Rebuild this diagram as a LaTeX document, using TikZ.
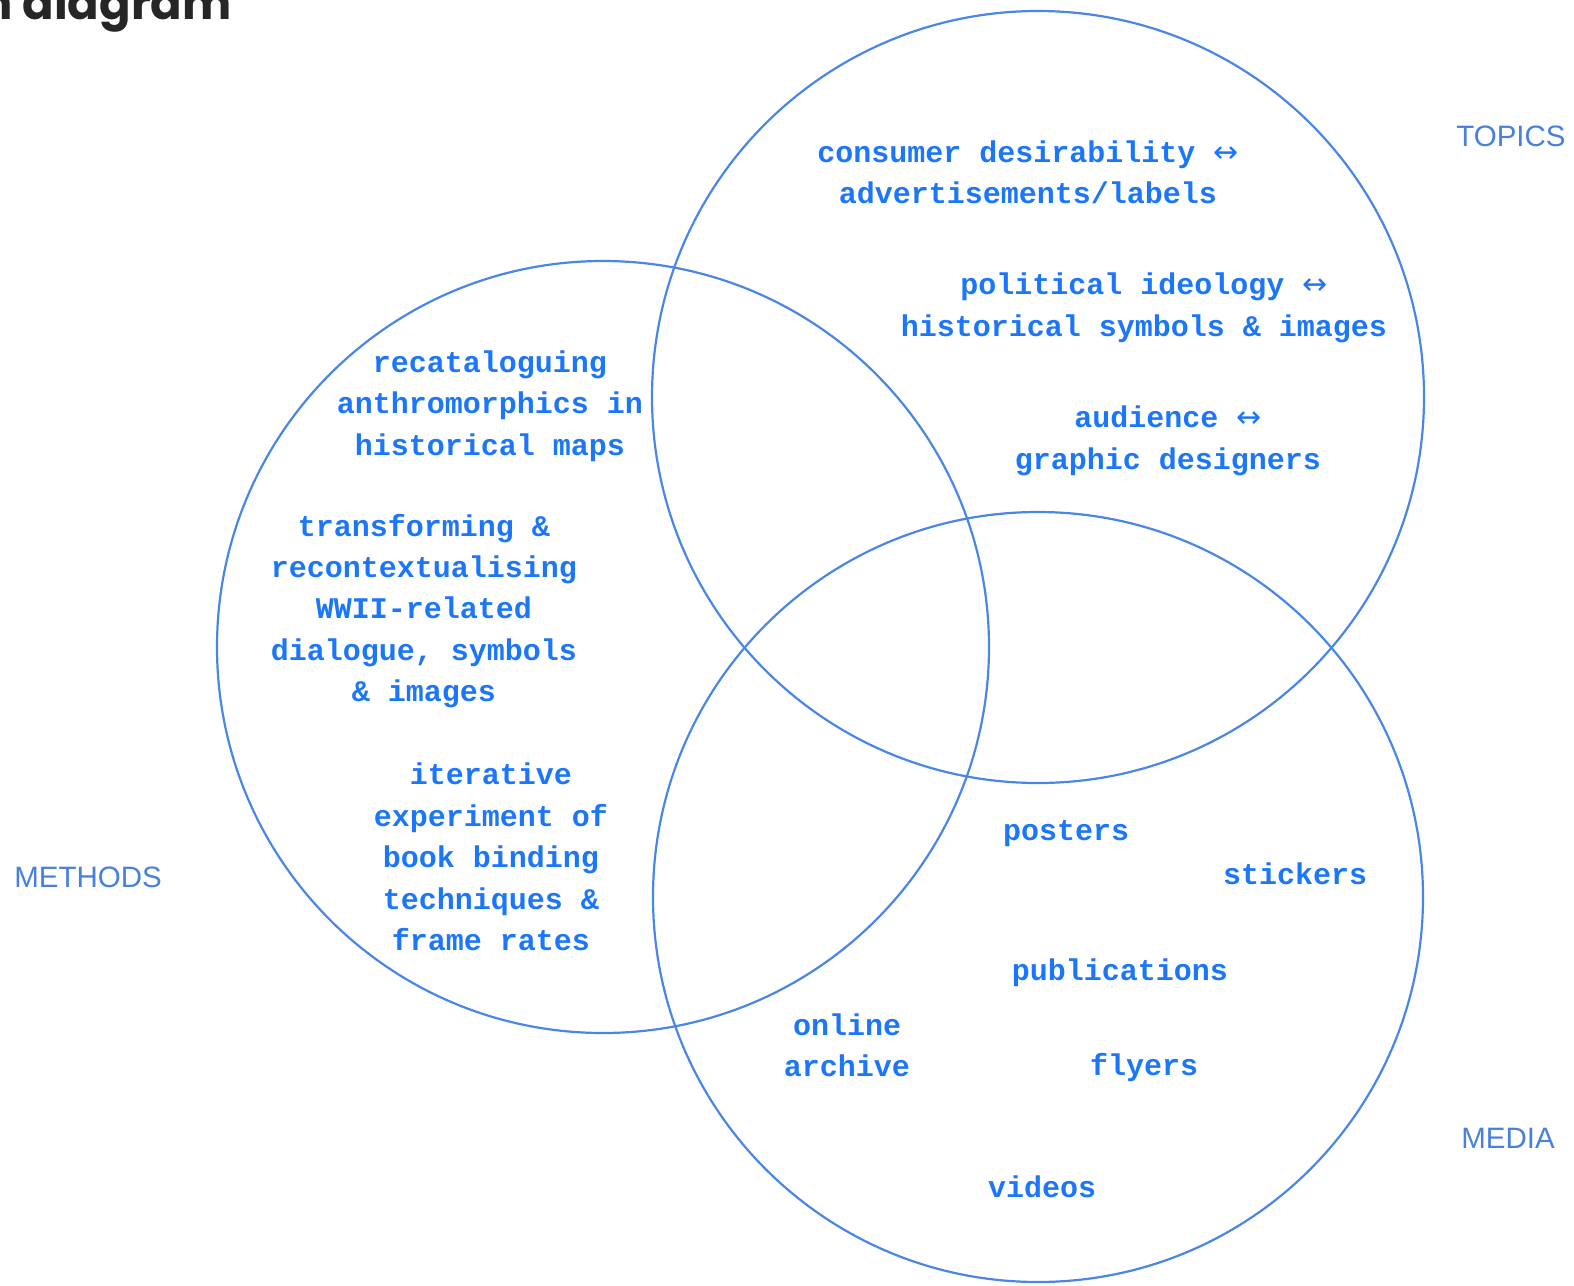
\documentclass[tikz,border=0pt]{standalone}
\usepackage{fontspec}
\setmainfont{Liberation Sans}
\setmonofont{Liberation Mono}
\newfontfamily\headfont{Poppins}
\newfontfamily\arrowfont{DejaVu Sans}
\newcommand{\both}{{\arrowfont\mdseries ↔}}
\definecolor{ringblue}{RGB}{74,134,232}
\definecolor{itemblue}{RGB}{28,118,250}
\definecolor{tagblue}{RGB}{72,128,222}
\begin{document}
\begin{tikzpicture}[x=1pt,y=-1pt,
    ring/.style={draw=ringblue,line width=2.2pt},
    item/.style={text=itemblue,align=center,inner sep=0pt,
        font=\fontsize{30}{41.4}\selectfont\ttfamily\bfseries},
    tag/.style={text=tagblue,inner sep=0pt,font=\fontsize{29.5}{34}\selectfont}]
\useasboundingbox (0,0) rectangle (1574,1285);

% Title (cut off at the top)
\node[anchor=base east,inner sep=0pt,text=black!85,
      font=\fontsize{46.5}{56}\selectfont\headfont\bfseries] (title) at (232,19) {n diagram};

% The three circles
\draw[ring] (603,647) circle (386);
\draw[ring] (1038,397) circle (386);
\draw[ring] (1038,897) circle (385);

% Circle names
\node[tag] (topics) at (1511,136) {TOPICS};
\node[tag] (methods) at (88,877) {METHODS};
\node[tag] (media) at (1508,1138) {MEDIA};

% Topics
\node[item] (consumer) at (1028,172) {consumer desirability \both\\advertisements/labels};
\node[item] (political) at (1144,308) {political ideology \both\\historical symbols \& images};
\node[item] (audience) at (1168,441) {audience \both\\graphic designers};

% Methods
\node[item] (recatalog) at (490,406) {recataloguing\\anthromorphics in\\historical maps};
\node[item] (transform) at (424,611) {transforming \&\\recontextualising\\WWII-related\\dialogue, symbols\\\& images};
\node[item] (iterative) at (491,857) {iterative\\experiment of\\book binding\\techniques \&\\frame rates};

% Media
\node[item] (posters) at (1066,834) {posters};
\node[item] (stickers) at (1295,874) {stickers};
\node[item] (publications) at (1120,973) {publications};
\node[item] (archive) at (847,1045) {online\\archive};
\node[item] (flyers) at (1144,1068) {flyers};
\node[item] (videos) at (1042,1187) {videos};
\end{tikzpicture}
\end{document}
